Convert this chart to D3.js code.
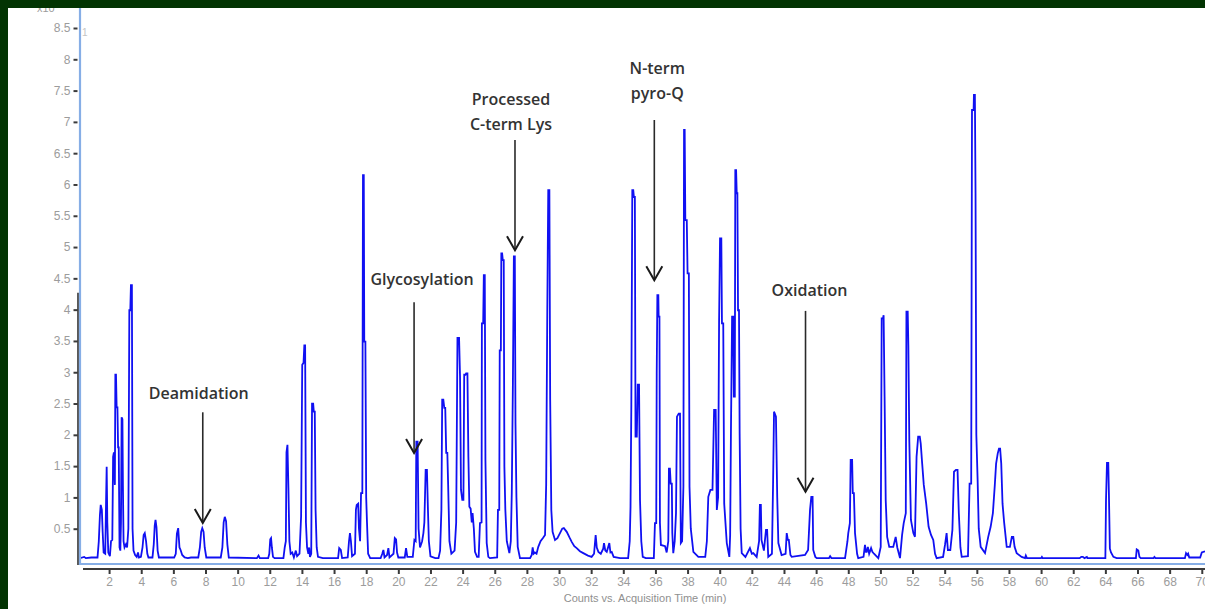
<!DOCTYPE html>
<html>
<head>
<meta charset="utf-8">
<script src="https://cdn.jsdelivr.net/npm/d3@7"></script>
<style>
  body { margin: 0; background: #ffffff; }
  svg { display: block; }
</style>
</head>
<body>
<script>
var canvasWidth = 1205;
var canvasHeight = 609;

// total ion chromatogram, [time (min), counts x10^5]
var chromatogram = [
  [0.19,0.03],[0.45,0.05],[0.55,0.03],[0.9,0.04],[1.28,0.04],
  [1.36,0.3],[1.43,0.72],[1.48,0.88],[1.55,0.8],[1.6,0.45],[1.66,0.12],[1.76,0.1],[1.81,0.9],[1.85,1.49],[1.89,0.6],[1.95,0.12],[2.05,0.06],[2.12,0.3],[2.2,0.32],
  [2.25,1.65],[2.3,1.72],[2.36,1.2],[2.39,2.96],[2.43,2.96],[2.47,2.44],[2.52,2.44],[2.56,1.8],[2.6,1.8],[2.65,0.2],[2.7,0.15],[2.74,0.6],[2.78,2.28],[2.83,2.25],[2.86,1.2],[2.9,0.3],[2.96,0.2],[3.05,0.25],[3.12,0.2],[3.2,0.5],
  [3.26,3.99],[3.32,3.99],[3.36,4.39],[3.42,4.39],[3.46,0.5],[3.52,0.15],[3.62,0.08],[3.72,0.05],[3.8,0.12],[3.86,0.04],
  [3.98,0.05],[4.08,0.2],[4.15,0.4],[4.22,0.43],[4.3,0.3],[4.38,0.1],[4.45,0.04],
  [4.7,0.04],[4.78,0.25],[4.84,0.55],[4.89,0.64],[4.95,0.52],[5.02,0.15],[5.1,0.04],
  [6.05,0.04],[6.15,0.1],[6.22,0.42],[6.3,0.51],[6.38,0.2],[6.45,0.16],[6.55,0.08],[6.7,0.04],[6.9,0.03],[7.1,0.04],
  [7.55,0.04],[7.65,0.2],[7.73,0.45],[7.8,0.51],[7.88,0.45],[7.95,0.2],[8.05,0.04],
  [8.95,0.04],[9.05,0.2],[9.13,0.6],[9.2,0.69],[9.28,0.62],[9.36,0.25],[9.45,0.04],
  [11.2,0.03],[11.3,0.07],[11.38,0.03],
  [11.9,0.03],[11.97,0.1],[12.03,0.33],[12.08,0.35],[12.13,0.2],[12.2,0.05],[12.3,0.03],
  [12.85,0.03],[12.93,0.2],[13.0,0.3],[13.04,1.72],[13.1,1.84],[13.16,1.15],[13.22,0.3],[13.3,0.1],[13.4,0.12],[13.5,0.04],[13.62,0.15],[13.7,0.06],
  [13.85,0.1],[13.95,0.7],[14.02,3.12],[14.1,3.15],[14.15,3.43],[14.2,3.43],[14.25,0.6],[14.32,0.2],[14.4,0.1],[14.45,0.2],[14.5,0.05],
  [14.58,0.1],[14.63,2.5],[14.7,2.5],[14.74,2.37],[14.8,2.37],[14.85,0.8],[14.92,0.2],[15.0,0.05],[15.3,0.03],[15.6,0.03],
  [16.25,0.03],[16.32,0.19],[16.42,0.16],[16.5,0.03],
  [16.85,0.04],[16.93,0.3],[16.99,0.43],[17.05,0.3],[17.12,0.06],
  [17.3,0.1],[17.36,0.8],[17.41,0.88],[17.5,0.9],[17.55,0.5],[17.62,0.3],[17.68,1.07],[17.76,1.07],[17.8,6.15],[17.85,6.15],[17.88,3.49],[17.95,3.49],[18.0,1.0],[18.05,0.6],[18.12,0.1],[18.25,0.03],
  [18.9,0.03],[19.0,0.1],[19.07,0.16],[19.14,0.04],[19.3,0.08],[19.38,0.19],[19.45,0.04],[19.7,0.1],[19.78,0.35],[19.86,0.33],[19.92,0.12],[20.0,0.04],[20.4,0.04],[20.48,0.19],[20.56,0.05],
  [20.9,0.05],[21.0,0.32],[21.08,0.3],[21.12,1.89],[21.2,1.89],[21.26,0.5],[21.35,0.2],[21.48,0.3],[21.56,0.43],[21.62,0.6],[21.7,1.44],[21.78,1.44],[21.84,0.83],[21.9,0.3],[22.0,0.06],[22.3,0.03],
  [22.5,0.03],[22.6,0.15],[22.68,0.8],[22.73,2.56],[22.8,2.56],[22.86,2.43],[22.92,2.43],[22.98,1.71],[23.05,1.71],[23.1,1.2],[23.18,0.3],[23.3,0.1],[23.5,0.15],[23.6,0.6],
  [23.68,3.55],[23.78,3.55],[23.84,2.93],[23.9,1.12],[23.98,0.96],[24.05,0.96],[24.1,2.96],[24.18,2.96],[24.22,2.98],[24.3,2.98],[24.36,1.65],[24.42,0.85],[24.5,0.82],[24.57,0.6],[24.62,0.75],[24.7,0.5],[24.77,0.13],[24.9,0.05],
  [25.0,0.05],[25.08,0.59],[25.18,0.6],[25.2,3.78],[25.28,3.78],[25.32,4.55],[25.38,4.55],[25.42,1.6],[25.5,0.27],[25.6,0.05],[25.7,0.03],
  [26.15,0.04],[26.2,0.8],[26.28,0.8],[26.31,3.35],[26.38,3.35],[26.41,4.9],[26.46,4.9],[26.5,4.79],[26.56,4.79],[26.6,1.49],[26.66,0.8],[26.75,0.3],[26.91,0.11],
  [27.0,0.3],[27.06,1.07],[27.13,2.83],[27.19,4.85],[27.25,4.85],[27.29,2.19],[27.35,1.0],[27.43,0.21],[27.57,0.03],
  [28.2,0.03],[28.3,0.08],[28.36,0.2],[28.42,0.1],[28.5,0.12],[28.6,0.1],[28.71,0.21],[28.85,0.3],[29.0,0.35],[29.13,0.4],[29.2,1.2],
  [29.27,3.99],[29.33,5.91],[29.4,5.91],[29.45,2.56],[29.52,0.8],[29.6,0.45],[29.75,0.32],
  [29.9,0.35],[30.06,0.43],[30.2,0.5],[30.3,0.51],[30.48,0.45],[30.65,0.36],[30.79,0.29],[30.95,0.22],[31.1,0.19],[31.3,0.14],[31.51,0.11],[31.8,0.07],[32.03,0.05],
  [32.18,0.1],[32.28,0.4],[32.35,0.2],[32.45,0.13],[32.6,0.1],[32.75,0.18],[32.8,0.27],[32.88,0.15],[32.97,0.13],[33.05,0.2],[33.13,0.27],[33.2,0.12],[33.28,0.13],[33.4,0.05],[33.8,0.03],
  [34.3,0.03],[34.4,0.3],[34.45,0.85],[34.5,2.48],[34.56,5.91],[34.62,5.91],[34.66,5.8],[34.72,5.8],[34.76,1.97],[34.84,1.97],[34.9,2.8],[34.98,2.8],[35.04,0.96],[35.12,0.3],[35.21,0.05],
  [35.4,0.03],[35.9,0.03],[35.97,0.59],[36.05,0.59],[36.08,2.98],[36.12,4.23],[36.18,4.23],[36.2,3.89],[36.25,3.89],[36.28,0.59],[36.34,0.24],[36.6,0.22],[36.7,0.12],
  [36.8,0.3],[36.84,1.46],[36.9,1.46],[36.95,1.22],[37.02,1.22],[37.05,0.43],[37.11,0.11],[37.2,0.3],[37.28,0.75],[37.34,2.29],[37.45,2.34],[37.53,2.34],[37.58,0.27],[37.66,0.3],
  [37.74,1.17],[37.78,6.87],[37.82,6.87],[37.86,5.43],[37.95,5.43],[38.0,4.58],[38.08,4.58],[38.12,1.17],[38.2,0.5],[38.36,0.13],[38.67,0.05],
  [39.1,0.05],[39.2,0.3],[39.29,1.01],[39.42,1.12],[39.55,1.12],[39.65,2.4],[39.75,2.4],[39.82,0.8],[39.9,1.0],[39.96,3.78],[40.02,5.14],[40.1,5.14],[40.14,3.78],[40.22,3.78],[40.28,0.9],[40.44,0.27],[40.6,0.05],
  [40.65,0.4],[40.7,2.08],[40.77,3.89],[40.84,3.89],[40.88,2.61],[40.94,2.61],[40.97,6.23],[41.02,6.23],[41.06,5.86],[41.1,5.86],[41.14,3.99],[41.2,3.99],[41.24,2.02],[41.3,0.5],[41.37,0.11],
  [41.6,0.05],[41.88,0.19],[42.0,0.1],[42.09,0.11],[42.3,0.05],[42.45,0.3],[42.5,0.88],[42.56,0.88],[42.6,0.32],[42.75,0.15],[42.88,0.48],[42.95,0.48],[43.02,0.05],
  [43.25,0.1],[43.32,1.22],[43.38,2.37],[43.5,2.29],[43.58,1.0],[43.65,0.27],[43.85,0.08],[44.1,0.1],[44.17,0.43],[44.24,0.32],[44.3,0.32],[44.4,0.08],[44.48,0.05],
  [45.31,0.08],[45.5,0.16],[45.62,0.8],[45.7,1.01],[45.78,1.01],[45.82,0.16],[45.95,0.05],[46.04,0.03],[46.8,0.03],[46.87,0.06],[46.95,0.03],
  [47.8,0.03],[47.95,0.3],[48.0,0.43],[48.1,0.59],[48.15,1.6],[48.24,1.6],[48.28,1.07],[48.35,1.07],[48.42,0.43],[48.55,0.1],[48.62,0.03],
  [48.95,0.05],[49.04,0.24],[49.1,0.13],[49.15,0.13],[49.22,0.21],[49.3,0.1],[49.42,0.19],[49.5,0.13],[49.6,0.1],[49.87,0.03],
  [50.02,0.21],[50.08,3.86],[50.16,3.86],[50.2,3.91],[50.26,2.61],[50.33,0.96],[50.42,0.37],[50.55,0.21],[50.8,0.21],[50.95,0.37],[51.05,0.2],[51.22,0.03],
  [51.35,0.4],[51.45,0.59],[51.58,0.75],[51.62,3.97],[51.7,3.97],[51.74,3.41],[51.8,1.89],[51.9,0.64],[52.05,0.43],[52.15,0.37],
  [52.25,1.65],[52.35,1.97],[52.45,1.97],[52.51,1.86],[52.6,1.54],[52.7,1.2],[52.85,0.9],[53.0,0.53],[53.15,0.4],[53.29,0.32],[53.4,0.1],[53.5,0.03],
  [53.9,0.05],[54.02,0.24],[54.12,0.43],[54.2,0.16],[54.35,0.16],[54.48,0.48],[54.58,1.41],[54.7,1.44],[54.8,1.44],[54.88,0.75],[54.98,0.2],[55.06,0.05],
  [55.45,0.06],[55.55,1.22],[55.65,1.22],[55.7,7.19],[55.8,7.19],[55.82,7.43],[55.88,7.43],[55.92,5.86],[55.97,2.0],[56.05,1.28],[56.12,0.5],[56.24,0.21],[56.51,0.11],
  [56.71,0.37],[56.86,0.53],[57.0,0.75],[57.12,1.2],[57.2,1.54],[57.3,1.7],[57.38,1.78],[57.45,1.78],[57.52,1.54],[57.6,0.9],[57.7,0.6],[57.86,0.21],[58.06,0.21],
  [58.18,0.37],[58.27,0.37],[58.35,0.21],[58.48,0.11],[58.79,0.05],[59.0,0.03],[59.05,0.07],[59.12,0.03],[60.0,0.03],[60.05,0.05],[60.1,0.03],
  [62.4,0.03],[62.5,0.05],[62.6,0.05],[62.7,0.03],[62.85,0.05],[62.9,0.03],
  [64.0,0.03],[64.04,0.96],[64.1,1.55],[64.18,1.55],[64.22,1.06],[64.28,0.18],[64.35,0.12],[64.5,0.05],[64.7,0.03],
  [65.9,0.03],[65.95,0.17],[66.05,0.15],[66.12,0.05],[66.2,0.03],[67.0,0.03],[67.05,0.05],[67.12,0.03],
  [68.95,0.03],[69.02,0.11],[69.1,0.08],[69.15,0.1],[69.22,0.04],[69.9,0.04],[70.0,0.12],[70.2,0.14]
];

var xTicks = d3.range(2, 71, 2);
var yTicks = d3.range(0.5, 8.51, 0.5);

// arrow annotations: label lines, peak time, arrow tip and tail (counts x10^5)
var annotationLabels = [["Deamidation"], ["Glycosylation"], ["Processed", "C-term Lys"], ["N-term", "pyro-Q"], ["Oxidation"]];
var annotationTimes = [7.83, 20.98, 27.26, 35.93, 45.34];
var annotationTips = [0.59, 1.71, 4.95, 4.47, 1.09];
var annotationTails = [2.36, 4.12, 6.71, 7.03, 3.98];

// label placement relative to the arrow tail (pixels)
var labelShiftX = [-4, 8, -4, 3, 4];
var labelLift = [13, 17, 10, 21, 15];

var svg = d3.select("body").append("svg")
    .attr("width", canvasWidth)
    .attr("height", canvasHeight)
    .style("font-family", "Arial, 'Liberation Sans', sans-serif");

svg.append("rect")
    .attr("width", canvasWidth)
    .attr("height", canvasHeight)
    .attr("fill", "#ffffff");

var xScale = d3.scaleLinear().domain([0.19, 70.2]).range([80, 1205]);
var yScale = d3.scaleLinear().domain([0, 8.5]).range([560, 28]);

// x axis (dark line with ticks every 2 min)
var xAxis = svg.append("g")
    .attr("transform", "translate(0,569)")
    .call(d3.axisBottom(xScale).tickValues(xTicks).tickSize(5).tickSizeOuter(0).tickPadding(3).tickFormat(d3.format("d")));
xAxis.select(".domain").attr("stroke", "#3a3a3a").attr("stroke-width", 2).attr("d", "M83,0H1205");
xAxis.selectAll(".tick line").attr("stroke", "#3a3a3a").attr("stroke-width", 2);
xAxis.selectAll(".tick text").attr("fill", "#9c9c9c").attr("font-size", "12px");

svg.append("text")
    .attr("x", 645)
    .attr("y", 602)
    .attr("text-anchor", "middle")
    .attr("font-size", "11px")
    .attr("fill", "#8f8f8f")
    .text("Counts vs. Acquisition Time (min)");

// y axis
var yAxis = svg.append("g")
    .attr("transform", "translate(77.5,0)")
    .call(d3.axisLeft(yScale).tickValues(yTicks).tickSize(4).tickSizeOuter(0).tickPadding(3)
        .tickFormat(function(d) { return d % 1 === 0 ? String(d) : d.toFixed(1); }));
yAxis.select(".domain").remove();
yAxis.selectAll(".tick line").attr("stroke", "#3a3a3a").attr("stroke-width", 2);
yAxis.selectAll(".tick text").attr("fill", "#9c9c9c").attr("font-size", "12px");

svg.append("text")
    .attr("x", 82)
    .attr("y", 36)
    .attr("font-size", "10px")
    .attr("fill", "#c4c4c4")
    .text("1");

// dark trace stub left of the frame
svg.append("line")
    .attr("x1", 78).attr("x2", 78)
    .attr("y1", yScale(4.27)).attr("y2", 565)
    .attr("stroke", "#222")
    .attr("stroke-width", 1.5);

// light blue plot frame
svg.append("path")
    .attr("d", "M80,8V564H1205")
    .attr("fill", "none")
    .attr("stroke", "#86aee6")
    .attr("stroke-width", 2.2);

// the chromatogram
var line = d3.line()
    .x(function(d) { return xScale(d[0]); })
    .y(function(d) { return yScale(d[1]); });

svg.append("clipPath").attr("id", "plotclip")
    .append("rect").attr("x", 81).attr("y", 8).attr("width", 1124).attr("height", 554);

svg.append("path")
    .datum(chromatogram)
    .attr("clip-path", "url(#plotclip)")
    .attr("d", line)
    .attr("fill", "none")
    .attr("stroke", "#1010f2")
    .attr("stroke-width", 1.8)
    .attr("stroke-linejoin", "miter");

// annotations
var notes = svg.append("g");
annotationLabels.forEach(function(lines, i) {
    var x = xScale(annotationTimes[i]);
    var yTip = yScale(annotationTips[i]);
    var yTail = yScale(annotationTails[i]);

    notes.append("line")
        .attr("x1", x).attr("x2", x)
        .attr("y1", yTail).attr("y2", yTip)
        .attr("stroke", "#2a2a2a")
        .attr("stroke-width", 1.6);
    notes.append("path")
        .attr("d", "M" + (x - 8) + "," + (yTip - 14) + "L" + x + "," + yTip + "L" + (x + 8) + "," + (yTip - 14))
        .attr("fill", "none")
        .attr("stroke", "#1a1a1a")
        .attr("stroke-width", 2);

    lines.forEach(function(txt, j) {
        notes.append("text")
            .attr("x", x + labelShiftX[i])
            .attr("y", yTail - labelLift[i] - (lines.length - 1 - j) * 25)
            .attr("text-anchor", "middle")
            .attr("font-family", "'Open Sans', sans-serif")
            .attr("font-weight", 600)
            .attr("font-size", "16px")
            .attr("fill", "#333333")
            .text(txt);
    });
});

// "x10^5" scale note, half hidden under the frame
var scaleNote = svg.append("text")
    .attr("x", 37)
    .attr("y", 12)
    .attr("font-size", "11px")
    .attr("fill", "#9c9c9c")
    .text("x10");
scaleNote.append("tspan").attr("dy", -5).attr("font-size", "8px").text("5");

// dark green border of the slide
svg.append("rect").attr("x", 0).attr("y", 0).attr("width", canvasWidth).attr("height", 8).attr("fill", "#023402");
svg.append("rect").attr("x", 0).attr("y", 0).attr("width", 8).attr("height", canvasHeight).attr("fill", "#023402");
</script>
</body>
</html>
